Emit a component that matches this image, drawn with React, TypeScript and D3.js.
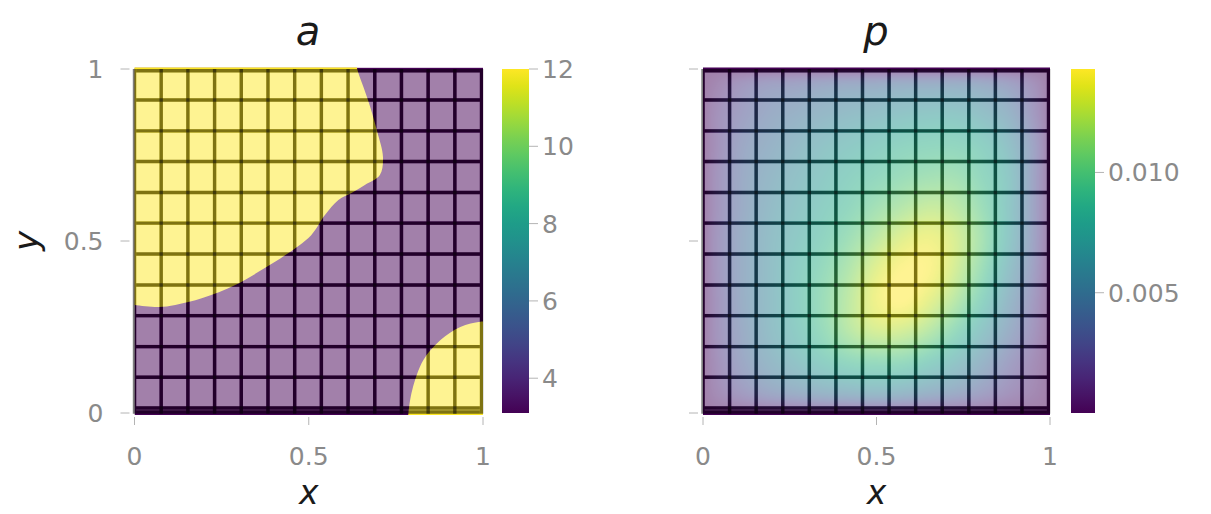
import React, { useMemo } from "react";
import * as d3 from "d3";

const W = 1211;
const H = 514;

// Mesh edge positions (data units), shared by both panels
const meshX = [0, 0.0766, 0.1532, 0.2298, 0.3064, 0.383, 0.4596, 0.5362, 0.6128, 0.6894, 0.766, 0.8426, 0.9192, 0.9958];
const meshY = [0.003, 0.0145, 0.104, 0.193, 0.283, 0.372, 0.462, 0.552, 0.641, 0.731, 0.82, 0.91, 0.995];

// Field a: two-valued coefficient
const aDomain = [3.1, 12];
const aLow = 3.1;
const aHigh = 12;
const aTicks = [4, 6, 8, 10, 12];
// Boundary of the high-a region in the upper-left corner (x, y)
const aRegionTopLeft: [number, number][] = [
  [0.636, 1.02], [0.639, 1.0], [0.67, 0.91], [0.696, 0.82], [0.713, 0.744], [0.704, 0.692],
  [0.661, 0.663], [0.624, 0.64], [0.585, 0.619], [0.547, 0.576], [0.507, 0.517], [0.433, 0.459],
  [0.375, 0.422], [0.289, 0.372], [0.195, 0.334], [0.117, 0.314], [0.069, 0.308], [0.0, 0.314], [-0.02, 0.316],
];
// Boundary of the high-a region in the lower-right corner
const aRegionBottomRight: [number, number][] = [
  [0.785, -0.02], [0.786, 0.0], [0.797, 0.067], [0.829, 0.154], [0.878, 0.212], [0.935, 0.25], [0.992, 0.265], [1.02, 0.266],
];

// Field p, sampled on cell centres plus the zero boundary (values ×1e-3)
const pGridX = [0, 0.0383, 0.1149, 0.1915, 0.2681, 0.3447, 0.4213, 0.4979, 0.5745, 0.6511, 0.7277, 0.8043, 0.8809, 0.9575, 1];
const pGridY = [1, 0.955, 0.865, 0.775, 0.686, 0.596, 0.507, 0.417, 0.328, 0.238, 0.149, 0.06, 0];
const pMilli = [
  [0, 0, 0, 0, 0, 0, 0, 0, 0, 0, 0, 0, 0, 0, 0],
  [0, 0.7, 2.1, 2.9, 3.1, 3.6, 3.9, 4.0, 4.3, 4.3, 4.3, 4.0, 3.1, 1.4, 0],
  [0, 1.4, 2.9, 4.0, 4.7, 5.4, 6.0, 6.4, 6.9, 7.2, 7.2, 6.4, 5.0, 2.1, 0],
  [0, 1.4, 3.6, 4.7, 5.7, 6.7, 7.4, 8.0, 8.6, 8.9, 8.9, 8.2, 6.4, 2.9, 0],
  [0, 1.7, 3.9, 5.3, 6.4, 7.4, 8.3, 9.0, 9.7, 10.2, 10.2, 9.0, 7.2, 2.9, 0],
  [0, 1.7, 4.0, 5.7, 6.9, 8.0, 9.0, 10.2, 11.2, 12.0, 11.5, 9.8, 7.2, 2.9, 0],
  [0, 1.9, 4.3, 6.0, 7.4, 8.6, 10.0, 11.6, 13.0, 13.6, 12.6, 10.4, 7.2, 2.9, 0],
  [0, 1.9, 4.3, 6.1, 7.9, 9.3, 11.0, 13.0, 14.2, 14.1, 12.4, 9.8, 6.4, 2.6, 0],
  [0, 1.7, 4.3, 6.1, 8.0, 9.7, 11.6, 13.6, 14.3, 13.2, 11.3, 8.6, 5.4, 2.1, 0],
  [0, 1.7, 4.0, 6.0, 7.7, 9.4, 11.3, 12.5, 12.4, 11.3, 9.3, 6.9, 4.3, 1.7, 0],
  [0, 1.4, 3.6, 5.3, 6.7, 8.0, 9.0, 9.4, 9.3, 8.3, 6.9, 5.0, 2.9, 1.1, 0],
  [0, 1.0, 2.4, 3.6, 4.3, 5.0, 5.4, 5.7, 5.4, 4.7, 4.0, 2.9, 1.7, 0.7, 0],
  [0, 0, 0, 0, 0, 0, 0, 0, 0, 0, 0, 0, 0, 0, 0],
];
const pDomain = [0, 0.0143];
const pTicks = [0.005, 0.01];

const axisTicks = [0, 0.5, 1];

// Panel geometry
const top = 69;
const bottom = 413;
const leftPanel = { x0: 134.5, x1: 483, cb0: 502, cb1: 529 };
const rightPanel = { x0: 703, x1: 1050, cb0: 1071, cb1: 1095 };
const fieldY0 = -0.006;
const fieldY1 = 1.004;

const tickColor = "#b4b4b4";
const labelColor = "#8a8a8a";
const font = "DejaVu Sans, sans-serif";

function hermite(xs: number[], vs: number[], x: number): number {
  const n = xs.length;
  let i = 0;
  while (i < n - 2 && x > xs[i + 1]) i++;
  const x0 = xs[i];
  const x1 = xs[i + 1];
  const h = x1 - x0;
  const slope = (k: number) =>
    k === 0
      ? (vs[1] - vs[0]) / (xs[1] - xs[0])
      : k === n - 1
      ? (vs[n - 1] - vs[n - 2]) / (xs[n - 1] - xs[n - 2])
      : (vs[k + 1] - vs[k - 1]) / (xs[k + 1] - xs[k - 1]);
  const t = Math.max(0, Math.min(1, (x - x0) / h));
  const t2 = t * t;
  const t3 = t2 * t;
  return (
    (2 * t3 - 3 * t2 + 1) * vs[i] +
    (t3 - 2 * t2 + t) * h * slope(i) +
    (-2 * t3 + 3 * t2) * vs[i + 1] +
    (t3 - t2) * h * slope(i + 1)
  );
}

function usePImage(xs: d3.ScaleLinear<number, number>, ys: d3.ScaleLinear<number, number>) {
  return useMemo(() => {
    const px0 = Math.floor(xs(0));
    const px1 = Math.ceil(xs(1));
    const py0 = Math.floor(ys(fieldY1));
    const py1 = Math.ceil(ys(fieldY0));
    const w = px1 - px0;
    const h = py1 - py0;
    const canvas = document.createElement("canvas");
    canvas.width = w;
    canvas.height = h;
    const ctx = canvas.getContext("2d");
    if (!ctx) return null;
    const img = ctx.createImageData(w, h);
    const gy = pGridY.slice().reverse();
    const cols = pGridX.map((_, j) => pMilli.map((r) => r[j]).reverse());
    const color = d3.scaleSequential(d3.interpolateViridis).domain(pDomain);
    for (let r = 0; r < h; r++) {
      const yv = Math.max(0, Math.min(1, ys.invert(py0 + r + 0.5)));
      const rowVals = cols.map((c) => hermite(gy, c, yv));
      for (let c = 0; c < w; c++) {
        const xv = Math.max(0, Math.min(1, xs.invert(px0 + c + 0.5)));
        const v = Math.max(0, hermite(pGridX, rowVals, xv)) / 1000;
        const col = d3.rgb(color(v));
        const k = (r * w + c) * 4;
        img.data[k] = col.r;
        img.data[k + 1] = col.g;
        img.data[k + 2] = col.b;
        img.data[k + 3] = 255;
      }
    }
    ctx.putImageData(img, 0, 0);
    return { href: canvas.toDataURL(), x: px0, y: py0, w, h };
  }, [xs, ys]);
}

function Mesh({ xs, ys }: { xs: d3.ScaleLinear<number, number>; ys: d3.ScaleLinear<number, number> }) {
  const lw = 3.4;
  const cells: JSX.Element[] = [];
  for (let i = 0; i < meshX.length - 1; i++) {
    for (let j = 0; j < meshY.length - 1; j++) {
      const x0 = xs(meshX[i]) + lw / 2;
      const x1 = xs(meshX[i + 1]) - lw / 2;
      const y0 = ys(meshY[j + 1]) + lw / 2;
      const y1 = ys(meshY[j]) - lw / 2;
      if (y1 - y0 <= 0) continue;
      cells.push(<rect key={`c${i}-${j}`} x={x0} y={y0} width={x1 - x0} height={y1 - y0} fill="#ffffff" fillOpacity={0.5} />);
    }
  }
  const xa = xs(meshX[0]);
  const xb = xs(meshX[meshX.length - 1]);
  const ya = ys(meshY[meshY.length - 1]);
  const yb = ys(meshY[0]);
  return (
    <g>
      {cells}
      {meshX.map((v, i) => (
        <line key={`vx${i}`} x1={xs(v)} x2={xs(v)} y1={ya - lw / 2} y2={yb + lw / 2} stroke="#000" strokeOpacity={0.5} strokeWidth={lw} />
      ))}
      {meshY.map((v, i) => (
        <line key={`hy${i}`} x1={xa + lw / 2} x2={xb - lw / 2} y1={ys(v)} y2={ys(v)} stroke="#000" strokeOpacity={0.5} strokeWidth={lw} />
      ))}
    </g>
  );
}

function Axes({ xs, ys, showYLabels }: { xs: d3.ScaleLinear<number, number>; ys: d3.ScaleLinear<number, number>; showYLabels: boolean }) {
  const xl = xs(0);
  return (
    <g>
      {axisTicks.map((t) => (
        <g key={`xt${t}`}>
          <line x1={xs(t)} x2={xs(t)} y1={417} y2={425} stroke={tickColor} strokeWidth={1} />
          <text x={xs(t)} y={465} textAnchor="middle" fontSize={25} fill={labelColor} fontFamily={font}>
            {t}
          </text>
        </g>
      ))}
      {axisTicks.map((t) => (
        <g key={`yt${t}`}>
          <line x1={xl - 14} x2={xl - 5} y1={ys(t)} y2={ys(t)} stroke={tickColor} strokeWidth={1} />
          {showYLabels && (
            <text x={xl - 31} y={ys(t) + 9} textAnchor="end" fontSize={25} fill={labelColor} fontFamily={font}>
              {t}
            </text>
          )}
        </g>
      ))}
      <text x={(xs(0) + xs(1)) / 2} y={504} textAnchor="middle" fontSize={33} fontStyle="italic" fill="#1a1a1a" fontFamily={font}>
        x
      </text>
    </g>
  );
}

function Colorbar({
  id, x0, x1, scale, ticks, fmt,
}: {
  id: string; x0: number; x1: number; scale: d3.ScaleLinear<number, number>; ticks: number[]; fmt: (v: number) => string;
}) {
  const stops = d3.range(0, 1.0001, 0.05);
  return (
    <g>
      <defs>
        <linearGradient id={id} x1="0" y1="1" x2="0" y2="0">
          {stops.map((s) => (
            <stop key={s} offset={`${s * 100}%`} stopColor={d3.interpolateViridis(s)} />
          ))}
        </linearGradient>
      </defs>
      <rect x={x0} y={top} width={x1 - x0} height={bottom - top} fill={`url(#${id})`} />
      {ticks.map((t) => (
        <g key={t}>
          <line x1={x1} x2={x1 + 9} y1={scale(t)} y2={scale(t)} stroke={tickColor} strokeWidth={1} />
          <text x={x1 + 13} y={scale(t) + 9} fontSize={25} fill={labelColor} fontFamily={font}>
            {fmt(t)}
          </text>
        </g>
      ))}
    </g>
  );
}

export default function App() {
  const ys = useMemo(() => d3.scaleLinear().domain([0, 1]).range([bottom, top]), []);
  const xsA = useMemo(() => d3.scaleLinear().domain([0, 1]).range([leftPanel.x0, leftPanel.x1]), []);
  const xsP = useMemo(() => d3.scaleLinear().domain([0, 1]).range([rightPanel.x0, rightPanel.x1]), []);
  const aColor = d3.scaleSequential(d3.interpolateViridis).domain(aDomain);
  const aBar = d3.scaleLinear().domain(aDomain).range([bottom, top]);
  const pBar = d3.scaleLinear().domain(pDomain).range([bottom, top]);
  const pImg = usePImage(xsP, ys);

  const region = d3
    .line<[number, number]>()
    .x((d) => xsA(d[0]))
    .y((d) => ys(d[1]))
    .curve(d3.curveCatmullRom.alpha(0.5));

  const tlPath = region(aRegionTopLeft) + `L${xsA(-0.02)},${ys(1.02)}Z`;
  const brPath = region(aRegionBottomRight) + `L${xsA(1.02)},${ys(-0.02)}Z`;

  return (
    <svg width={W} height={H} style={{ position: "absolute", left: 0, top: 0, background: "#fff" }}>
      <defs>
        <clipPath id="clipA">
          <rect x={xsA(0)} y={ys(fieldY1)} width={xsA(1) - xsA(0)} height={ys(fieldY0) - ys(fieldY1)} />
        </clipPath>
        <clipPath id="clipP">
          <rect x={xsP(0)} y={ys(fieldY1)} width={xsP(1) - xsP(0)} height={ys(fieldY0) - ys(fieldY1)} />
        </clipPath>
      </defs>

      {/* Panel a */}
      <g clipPath="url(#clipA)">
        <rect x={xsA(0)} y={ys(fieldY1)} width={xsA(1) - xsA(0)} height={ys(fieldY0) - ys(fieldY1)} fill={aColor(aLow)} />
        <path d={tlPath} fill={aColor(aHigh)} />
        <path d={brPath} fill={aColor(aHigh)} />
      </g>
      <Mesh xs={xsA} ys={ys} />
      <Axes xs={xsA} ys={ys} showYLabels={true} />
      <text x={308} y={45} textAnchor="middle" fontSize={40} fontStyle="italic" fill="#1a1a1a" fontFamily={font}>
        a
      </text>
      <text transform={`translate(38,${ys(0.5)}) rotate(-90)`} textAnchor="middle" fontSize={34} fontStyle="italic" fill="#1a1a1a" fontFamily={font}>
        y
      </text>
      <Colorbar id="cbA" x0={leftPanel.cb0} x1={leftPanel.cb1} scale={aBar} ticks={aTicks} fmt={(v) => String(v)} />

      {/* Panel p */}
      <g clipPath="url(#clipP)">
        {pImg && <image href={pImg.href} x={pImg.x} y={pImg.y} width={pImg.w} height={pImg.h} preserveAspectRatio="none" />}
      </g>
      <Mesh xs={xsP} ys={ys} />
      <Axes xs={xsP} ys={ys} showYLabels={false} />
      <text x={876} y={45} textAnchor="middle" fontSize={40} fontStyle="italic" fill="#1a1a1a" fontFamily={font}>
        p
      </text>
      <Colorbar id="cbP" x0={rightPanel.cb0} x1={rightPanel.cb1} scale={pBar} ticks={pTicks} fmt={(v) => v.toFixed(3)} />
    </svg>
  );
}
